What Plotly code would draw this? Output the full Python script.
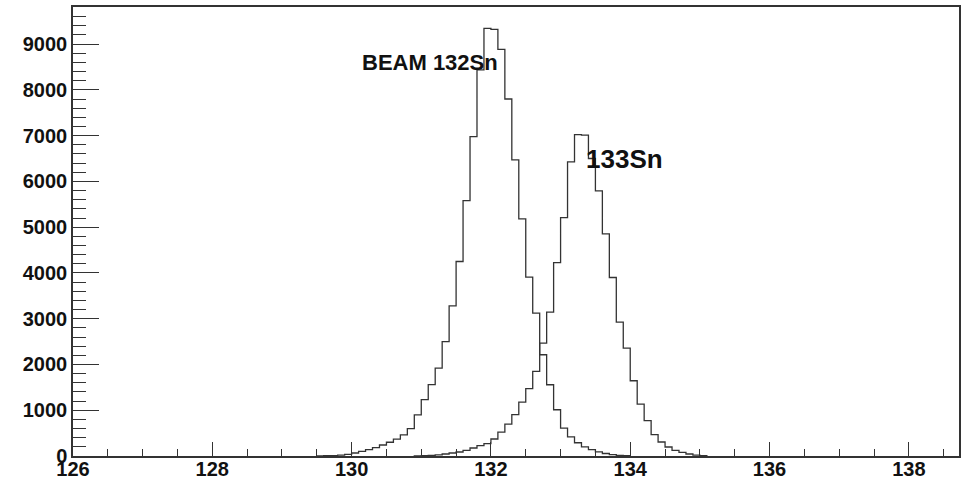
import plotly.graph_objects as go
import numpy as np

# Histogram binning (bin width 0.1)
bin_width = 0.1
beam_start = 129.5
beam_counts = [3, 5, 8, 20, 35,
               65, 100, 140, 185, 240, 300, 370, 460, 600, 900,
               1230, 1560, 1920, 2500, 3280, 4250, 5580, 6980, 8435, 9345,
               9323, 8886, 7800, 6470, 5181, 3908, 3122, 2212, 1557, 1011,
               611, 420, 290, 200, 140, 90, 55, 30, 15, 5]
sn133_start = 130.9
sn133_counts = [3,
                8, 15, 25, 44, 65, 87, 122, 175, 225, 269,
                371, 520, 695, 902, 1179, 1470, 1847, 2467, 3144, 4227,
                5210, 6426, 7022, 7009, 6500, 5793, 4854, 3900, 2926, 2358,
                1644, 1135, 771, 465, 306, 197, 122, 79, 44, 20,
                5]

x_ticks = [126, 128, 130, 132, 134, 136, 138]
y_ticks = [0, 1000, 2000, 3000, 4000, 5000, 6000, 7000, 8000, 9000]
labels = [("BEAM 132Sn", 130.12, 8590, 22), ("133Sn", 133.33, 6496, 26)]


def step_xy(start, counts):
    n = len(counts)
    edges = [round(start + i * bin_width, 4) for i in range(n + 1)]
    xs = [edges[0]] + edges[:-1] + [edges[-1]]
    ys = [0] + list(counts) + [0]
    return xs, ys


fig = go.Figure()
for start, counts in [(beam_start, beam_counts), (sn133_start, sn133_counts)]:
    xs, ys = step_xy(start, counts)
    fig.add_trace(go.Scatter(x=xs, y=ys, mode="lines", line_shape="hv",
                             line=dict(color="#333333", width=1.3),
                             showlegend=False, hoverinfo="skip"))

for text, x, y, size in labels:
    fig.add_annotation(x=x, y=y, text=text, showarrow=False, xanchor="left",
                       yanchor="middle",
                       font=dict(family="Liberation Sans", size=size,
                                 color="#111111", weight="bold"))

tickfont = dict(family="Liberation Sans", size=20, color="#111111", weight="bold")
fig.update_layout(
    width=971, height=481,
    margin=dict(l=73, r=12, t=7, b=25),
    paper_bgcolor="white", plot_bgcolor="white",
    xaxis=dict(range=[126, 138.72], tickvals=x_ticks, ticks="inside",
               ticklen=14, tickwidth=1.2, tickcolor="#333333", automargin=False,
               ticklabelstandoff=-6,
               showgrid=False, zeroline=False, showline=True, mirror=True,
               linecolor="#333333", linewidth=1.5, tickfont=tickfont,
               minor=dict(ticks="inside", ticklen=7, dtick=0.5, tick0=126,
                          tickcolor="#333333", tickwidth=1.2, showgrid=False)),
    yaxis=dict(range=[0, 9810], tickvals=y_ticks, ticks="inside",
               ticklen=26, tickwidth=1.2, tickcolor="#333333", automargin=False,
               showgrid=False, zeroline=False, showline=True, mirror=True,
               linecolor="#333333", linewidth=1.5, tickfont=tickfont,
               minor=dict(ticks="inside", ticklen=13, dtick=200, tick0=0,
                          tickcolor="#333333", tickwidth=1.2, showgrid=False)),
)

fig.write_html("out.html")
